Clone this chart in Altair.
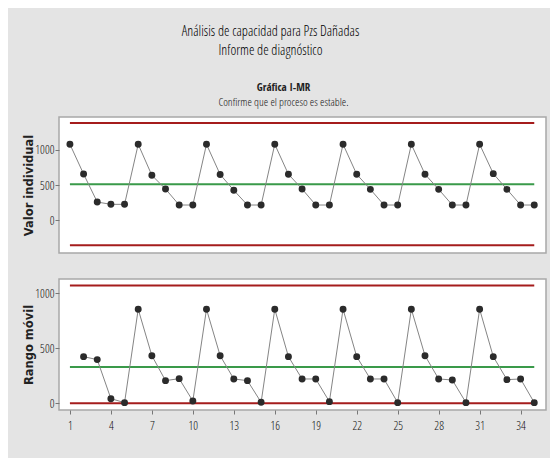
import altair as alt
import pandas as pd

# Observations
obs = list(range(1, 36))
# Individual values
individual = [1081, 657, 257, 224, 224, 1081, 638, 443, 214, 214,
              1081, 650, 424, 214, 214, 1081, 653, 443, 214, 214,
              1081, 653, 438, 214, 214, 1081, 653, 438, 214, 214,
              1081, 662, 438, 214, 214]
moving_range = [None, 424, 397, 42, 6, 855, 433, 206, 224, 21,
                855, 433, 221, 206, 9, 855, 424, 221, 221, 15,
                855, 424, 221, 221, 6, 855, 433, 221, 212, 6,
                855, 424, 215, 221, 6]

# Control limits
i_limits = [1384, 512, -360]
mr_limits = [1071, 330, 0]
limit_kind = ["UCL", "CL", "LCL"]

x_ticks = [1, 4, 7, 10, 13, 16, 19, 22, 25, 28, 31, 34]

df = pd.DataFrame({"obs": obs, "valor": individual, "mr": moving_range})
lim_i = pd.DataFrame({"y": i_limits, "tipo": limit_kind, "x1": min(obs), "x2": max(obs)})
lim_mr = pd.DataFrame({"y": mr_limits, "tipo": limit_kind, "x1": min(obs), "x2": max(obs)})

NARROW = "Open Sans Condensed Light, Roboto Condensed, sans-serif"
NARROW_BOLD = "Open Sans Condensed, Roboto Condensed, sans-serif"
WIDE_BOLD = "DejaVu Sans, Verdana, sans-serif"
RED = "#a51c1c"
GREEN = "#3a9a4a"
INK = "#111111"

xscale = alt.Scale(domain=[0.2, 35.86], nice=False, zero=False)
color = alt.Color("tipo:N", scale=alt.Scale(domain=limit_kind, range=[RED, GREEN, RED]), legend=None)

def yaxis(title):
    return alt.Axis(values=[0, 500, 1000], format="d", title=title, grid=False, domain=False,
                    tickSize=4, tickColor="#777", labelPadding=1, labelFont=NARROW, labelFontSize=12,
                    labelColor=INK, minExtent=22, maxExtent=22, titlePadding=3,
                    titleFont=WIDE_BOLD, titleFontWeight="bold", titleFontSize=11.5, titleColor="#222")

# Top panel: individual values
xa_top = alt.X("obs:Q", scale=xscale, axis=None)
rules_top = alt.Chart(lim_i).mark_rule(strokeWidth=2).encode(
    x=alt.X("x1:Q", scale=xscale, axis=None), x2="x2:Q",
    y=alt.Y("y:Q"), color=color)
line_top = alt.Chart(df).mark_line(color="#858585", strokeWidth=1).encode(
    x=xa_top,
    y=alt.Y("valor:Q", scale=alt.Scale(domain=[-471, 1471], nice=False, zero=False), axis=yaxis("Valor individual")))
pts_top = alt.Chart(df).mark_circle(color="#2b2b2b", opacity=1, size=48).encode(
    x=xa_top, y="valor:Q")
top = alt.layer(rules_top, line_top, pts_top).properties(
    width=487, height=136,
    title=alt.TitleParams(text="Gráfica I-MR", subtitle="Confirme que el proceso es estable.",
                          font=NARROW_BOLD, fontSize=11, fontWeight="bold", color="#222",
                          subtitleFont=NARROW, subtitleFontSize=11.3, subtitleColor=INK,
                          subtitlePadding=4, offset=9, anchor="middle", dx=-19))

# Bottom panel: moving range
xa_mr = alt.X("obs:Q", scale=xscale,
              axis=alt.Axis(values=x_ticks, title=None, grid=False, domain=False, tickSize=4,
                            tickColor="#777", labelPadding=6, labelFont=NARROW, labelFontSize=12,
                            labelColor=INK))
df_mr = df.dropna()
rules_mr = alt.Chart(lim_mr).mark_rule(strokeWidth=2).encode(
    x=alt.X("x1:Q", scale=xscale), x2="x2:Q", y=alt.Y("y:Q"), color=color)
line_mr = alt.Chart(df_mr).mark_line(color="#858585", strokeWidth=1).encode(
    x=xa_mr,
    y=alt.Y("mr:Q", scale=alt.Scale(domain=[-61, 1130], nice=False, zero=False), axis=yaxis("Rango móvil")))
pts_mr = alt.Chart(df_mr).mark_circle(color="#2b2b2b", opacity=1, size=48).encode(
    x=xa_mr, y="mr:Q")
bottom = alt.layer(rules_mr, line_mr, pts_mr).properties(width=487, height=131)

chart = alt.vconcat(top, bottom, spacing=24).properties(
    title=alt.TitleParams(text=["Análisis de capacidad para Pzs Dañadas", "Informe de diagnóstico"],
                          font=NARROW, fontSize=14, fontWeight="normal", color="#000",
                          lineHeight=19, anchor="middle", offset=23, dx=-14),
    padding={"left": 14, "right": 3, "top": 16, "bottom": 26},
    background="#e4e4e4"
).configure_view(stroke="#a8a8a8", strokeWidth=1.5, fill="white")

chart.save("out.html", embed_options={"renderer": "svg", "actions": False})
